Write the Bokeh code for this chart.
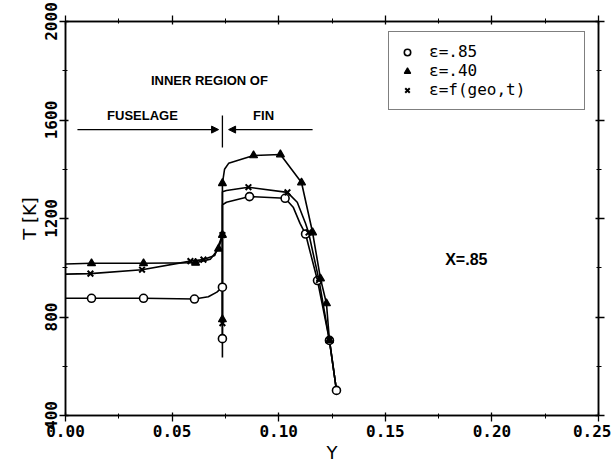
from bokeh.plotting import figure
from bokeh.models import (Range1d, LinearAxis, SingleIntervalTicker, NumeralTickFormatter,
                          CustomJSTickFormatter, Legend, LegendItem, Arrow, NormalHead)
from bokeh.core.properties import value
from bokeh.embed import file_html
from bokeh.resources import INLINE

# ---------------- data ----------------
# e = .85 (open circles)
c85_line_y = [0.0, 0.0122, 0.0366, 0.0605, 0.0670, 0.0710, 0.0736, 0.0736, 0.0736, 0.0755, 0.0863,
              0.1030, 0.1068, 0.1100, 0.1126, 0.1182, 0.1238, 0.1271]
c85_line_t = [876, 876, 876, 873, 882, 901, 921, 712, 1255, 1266, 1289, 1282, 1246, 1180, 1137, 948, 705, 502]
c85_mark_y = [0.0122, 0.0366, 0.0605, 0.0736, 0.0736, 0.0863, 0.1030, 0.1126, 0.1182, 0.1238, 0.1271]
c85_mark_t = [876, 876, 873, 921, 712, 1289, 1282, 1137, 948, 705, 502]

# e = .40 (triangles)
c40_line_y = [0.0, 0.0122, 0.0366, 0.0610, 0.0680, 0.0718, 0.0736, 0.0736, 0.0736, 0.0736, 0.0746,
              0.0765, 0.0882, 0.1008, 0.1107, 0.1159, 0.1196, 0.1224, 0.1238, 0.1271]
c40_line_t = [1015, 1018, 1018, 1020, 1035, 1077, 1133, 790, 636, 1343, 1400, 1424, 1456, 1460, 1346,
              1143, 956, 855, 705, 502]
c40_mark_y = [0.0122, 0.0366, 0.0610, 0.0718, 0.0736, 0.0736, 0.0736, 0.0882, 0.1008, 0.1107, 0.1159,
              0.1196, 0.1224, 0.1238]
c40_mark_t = [1018, 1018, 1020, 1077, 1133, 790, 1343, 1456, 1460, 1346, 1143, 956, 855, 705]

# e = f(geo,t) (crosses)
cf_line_y = [0.0, 0.0117, 0.0359, 0.0586, 0.0647, 0.0700, 0.0736, 0.0736, 0.0736, 0.0755, 0.0858,
             0.1041, 0.1087, 0.1126, 0.1140, 0.1189, 0.1238, 0.1271]
cf_line_t = [974, 976, 992, 1027, 1033, 1050, 1133, 775, 1309, 1314, 1327, 1306, 1266, 1180, 1143, 950, 705, 502]
cf_mark_y = [0.0117, 0.0359, 0.0586, 0.0647, 0.0736, 0.0736, 0.0858, 0.1041, 0.1140, 0.1189, 0.1238]
cf_mark_t = [976, 992, 1027, 1033, 1133, 775, 1327, 1306, 1143, 950, 705]

legend_labels = ["ε=.85", "ε=.40", "ε=f(geo,t)"]

# annotations
annot_text = ["INNER REGION OF", "FUSELAGE", "FIN"]
annot_y = [0.0675, 0.0361, 0.0929]
annot_t = [1760, 1618, 1618]
station_text = ["X=.85"]
station_y = [0.188]
station_t = [1033]
# arrows: fuselage (pointing right), fin (pointing left)
arrow_y0 = [0.0056, 0.1159]
arrow_y1 = [0.0718, 0.0765]
arrow_t = [1561, 1561]
sep_y = [0.0736]
sep_t0 = [1488]
sep_t1 = [1618]

x_ticks_interval = 0.05
y_ticks_interval = 400

# ---------------- figure ----------------
p = figure(width=611, height=466, x_range=Range1d(0, 0.25), y_range=Range1d(400, 2000),
           output_backend="svg", toolbar_location=None,
           min_border_left=65, min_border_right=13, min_border_top=21, min_border_bottom=51,
           x_axis_label="Y", y_axis_label="T [K]")
p.xgrid.visible = False
p.ygrid.visible = False
p.outline_line_color = "black"
p.outline_line_width = 1.5
p.background_fill_color = "white"
p.border_fill_color = "white"

def style_axis(ax, ticker, fmt, orient=None):
    ax.ticker = ticker
    ax.formatter = fmt
    ax.axis_line_color = "black"
    ax.axis_line_width = 1.5
    ax.major_tick_line_color = "black"
    ax.minor_tick_line_color = "black"
    ax.major_tick_line_width = 1.3
    ax.minor_tick_line_width = 1.0
    ax.major_tick_in = 3
    ax.major_tick_out = 6
    ax.minor_tick_in = 2
    ax.minor_tick_out = 3
    ax.major_label_text_font = "DejaVu Sans Mono"
    ax.major_label_text_font_style = "bold"
    ax.major_label_text_font_size = "16px"
    ax.major_label_text_color = "black"
    ax.major_label_standoff = 3
    ax.axis_label_text_font = "DejaVu Sans"
    ax.axis_label_text_font_style = "normal"
    ax.axis_label_text_font_size = "18px"
    ax.axis_label_text_color = "black"
    ax.axis_label_standoff = 2
    if orient is not None:
        ax.major_label_orientation = orient

style_axis(p.xaxis[0], SingleIntervalTicker(interval=x_ticks_interval, num_minor_ticks=2),
           NumeralTickFormatter(format="0.00"))
style_axis(p.yaxis[0], SingleIntervalTicker(interval=y_ticks_interval, num_minor_ticks=2),
           NumeralTickFormatter(format="0"), "vertical")

blank = CustomJSTickFormatter(code="return ''")
top = LinearAxis()
style_axis(top, SingleIntervalTicker(interval=x_ticks_interval, num_minor_ticks=2), blank)
top.major_label_standoff = 0
top.major_label_text_font_size = "1px"
p.add_layout(top, "above")
right = LinearAxis()
style_axis(right, SingleIntervalTicker(interval=y_ticks_interval, num_minor_ticks=2), blank)
right.major_label_standoff = 0
right.major_label_text_font_size = "1px"
p.add_layout(right, "right")

# ---------------- series ----------------
lw = 1.6
p.line(c85_line_y, c85_line_t, line_color="black", line_width=lw)
p.line(c40_line_y, c40_line_t, line_color="black", line_width=lw)
p.line(cf_line_y, cf_line_t, line_color="black", line_width=lw)

r85 = p.scatter(c85_mark_y, c85_mark_t, marker="circle", size=8, fill_color="white",
                line_color="black", line_width=1.6)
r40 = p.scatter(c40_mark_y, c40_mark_t, marker="triangle", size=8, fill_color="black",
                line_color="black", line_width=1.2)
rf = p.scatter(cf_mark_y, cf_mark_t, marker="x", size=8, line_color="black", line_width=2)

# ---------------- annotations ----------------
p.text(annot_y, annot_t, text=annot_text, text_font=value("Liberation Sans"), text_font_style="bold",
       text_font_size="13px", text_align="center", text_baseline="middle", text_color="black")
p.text(station_y, station_t, text=station_text, text_font=value("Liberation Sans"), text_font_style="bold",
       text_font_size="16px", text_align="center", text_baseline="middle", text_color="black")
for x0, x1, t in zip(arrow_y0, arrow_y1, arrow_t):
    p.add_layout(Arrow(end=NormalHead(size=7, fill_color="black", line_color="black"),
                       x_start=x0, y_start=t, x_end=x1, y_end=t,
                       line_color="black", line_width=1.3))
p.segment(sep_y, sep_t0, sep_y, sep_t1, line_color="black", line_width=1.3)

# ---------------- legend ----------------
legend = Legend(items=[LegendItem(label=legend_labels[0], renderers=[r85]),
                       LegendItem(label=legend_labels[1], renderers=[r40]),
                       LegendItem(label=legend_labels[2], renderers=[rf])],
                location=(323, 305))
legend.margin = 0
legend.padding = 10
legend.spacing = 0
legend.glyph_width = 16
legend.glyph_height = 16
legend.label_height = 16
legend.label_width = 145
legend.label_standoff = 14
legend.label_text_font = "DejaVu Sans Mono"
legend.label_text_font_size = "16px"
legend.label_text_color = "black"
legend.border_line_color = "black"
legend.border_line_width = 1.5
legend.background_fill_color = "white"
legend.background_fill_alpha = 1.0
p.add_layout(legend)

open("out.html", "w").write(file_html(p, INLINE))
